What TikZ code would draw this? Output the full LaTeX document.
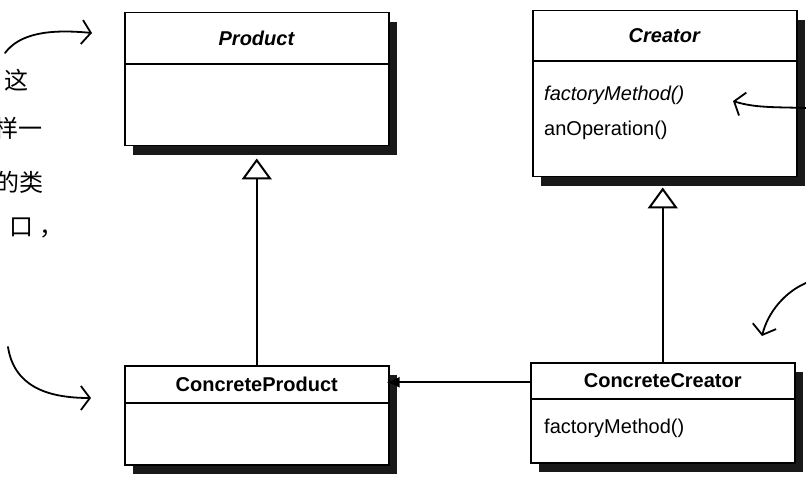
\documentclass[tikz,border=0pt]{standalone}
\usepackage{fontspec}
\setmainfont{Liberation Sans}
\newfontfamily\cjk{Noto Sans CJK SC}
\usetikzlibrary{positioning,arrows.meta,calc,shadows}

\tikzset{
  classbox/.style={draw, line width=1.5pt, fill=white, minimum width=264pt, inner sep=0pt,
    anchor=north west, drop shadow={shadow xshift=8pt, shadow yshift=-9pt, fill=black, opacity=0.9}},
  member/.style={anchor=west, inner sep=0pt, font=\fontsize{20}{23}\selectfont},
  inherit/.style={line width=2pt, -{Triangle[open, length=21pt, width=30pt, line width=2pt]}},
  assoc/.style={line width=2pt, -{Latex[length=13pt, width=11pt]}},
  hand/.style={line width=1.8pt, line cap=round, -{Straight Barb[length=9pt, width=24pt, line width=1.8pt]}},
  scribble/.style={inner sep=0pt, font=\cjk\fontsize{24}{28}\selectfont},
}

\begin{document}
\begin{tikzpicture}[x=1pt, y=-1pt]
  \useasboundingbox (0,0) rectangle (806,486);
  \fill[white] (0,0) rectangle (806,486);
  \clip (0,0) rectangle (806,486);

  % class boxes: name / left / top / height / divider / title
  \foreach \name/\x/\y/\h/\split/\title in {
      product/124/12/133/64/\textbf{\textit{Product}},
      creator/532/10/166/61/\textbf{\textit{Creator}},
      cproduct/124/365/99/403/\textbf{ConcreteProduct},
      ccreator/530/362/100/399/\textbf{ConcreteCreator}} {
    \node[classbox, minimum height=\h pt] (\name) at (\x,\y) {};
    \draw[line width=1.2pt] (\name.west |- 0,\split) -- (\name.east |- 0,\split);
    \node[font=\fontsize{20}{23}\selectfont] (\name-title) at ($(\name.north)!0.5!(\name.north |- 0,\split)$) {\title};
  }

  \node[member] (creator-fm) at (544,95) {\textit{factoryMethod()}};
  \node[member] (creator-op) at (544,130) {anOperation()};
  \node[member] (ccreator-fm) at (544,428) {factoryMethod()};

  \draw[inherit, shorten >=12pt] (cproduct.north) -- (cproduct.north |- product.south);
  \draw[inherit, shorten >=10pt] (ccreator.north) -- (ccreator.north |- creator.south);
  \coordinate (assoc-start) at ($(ccreator.north west)!0.2!(ccreator.south west)$);
  \draw[assoc, shorten >=-3pt] (assoc-start) -- (assoc-start -| cproduct.east);

  % handwritten notes
  \node[scribble] (note1) at (17,80) {这};
  \node[scribble, anchor=east] (note2) at (43,128) {样一};
  \node[scribble, anchor=east] (note3) at (44,182) {的类};
  \node[scribble, anchor=west] (note4) at (9,228) {口\hspace{6pt}，};
  \draw[hand] (5,53) .. controls (20,33) and (50,29) .. (92,33);
  \draw[hand] (8,347) .. controls (14,385) and (45,398) .. (91,398);
  \draw[hand] (806,108) .. controls (775,107) and (755,108) .. (733,101);
  \draw[hand] (806,283) .. controls (785,292) and (768,312) .. (762,336);
\end{tikzpicture}
\end{document}
